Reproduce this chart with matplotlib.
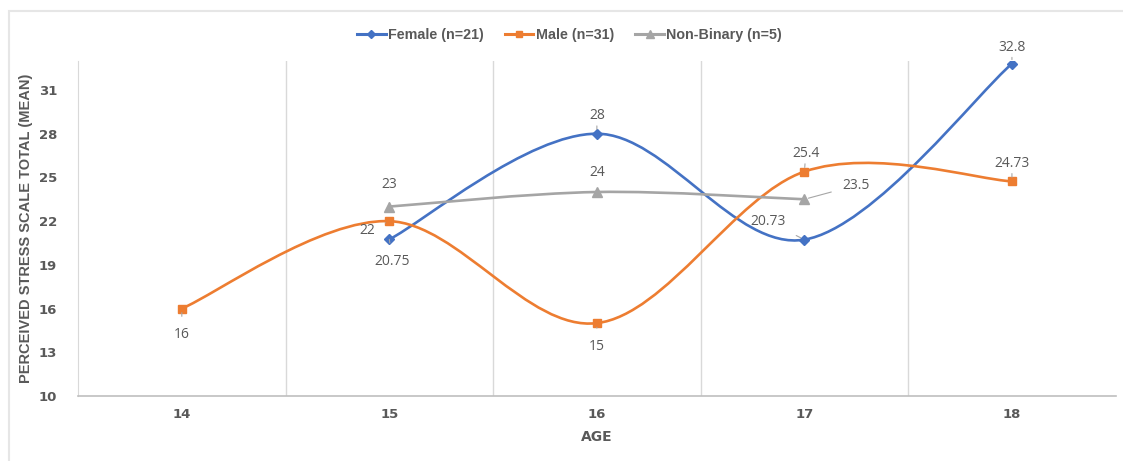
import numpy as np
import matplotlib
matplotlib.use("Agg")
import matplotlib.pyplot as plt
from matplotlib.path import Path
from matplotlib.patches import PathPatch, Rectangle
from matplotlib.lines import Line2D

plt.rcParams['font.family'] = ['Liberation Sans', 'DejaVu Sans']

ages = [14, 15, 16, 17, 18]
female_x = [15, 16, 17, 18]
female_y = [20.75, 28, 20.73, 32.8]
male_x = [14, 15, 16, 17, 18]
male_y = [16, 22, 15, 25.4, 24.73]
nb_x = [15, 16, 17]
nb_y = [23, 24, 23.5]

BLUE = '#4472C4'
ORANGE = '#ED7D31'
GRAY = '#A5A5A5'
TXT = '#595959'


def smooth_path(xs, ys):
    # Excel-style smoothing: cubic Bezier through the points
    pts = np.column_stack([np.asarray(xs, float) - ages[0], ys])
    n = len(pts)
    verts = [pts[0]]
    codes = [Path.MOVETO]
    for i in range(n - 1):
        p0 = pts[i - 1] if i > 0 else pts[i]
        p1, p2 = pts[i], pts[i + 1]
        p3 = pts[i + 2] if i + 2 < n else pts[i + 1]
        c1 = p1 + (p2 - p0) / 6.0
        c2 = p2 - (p3 - p1) / 6.0
        verts += [c1, c2, p2]
        codes += [Path.CURVE4] * 3
    return Path(verts, codes)


fig = plt.figure(figsize=(11.23, 4.61), dpi=100)
ax = fig.add_axes([0.0695, 0.141, 0.924, 0.727])

series = [
    (female_x, female_y, BLUE, 'D', 'Female (n=21)', 5),
    (male_x, male_y, ORANGE, 's', 'Male (n=31)', 5.5),
    (nb_x, nb_y, GRAY, '^', 'Non-Binary (n=5)', 6.5),
]
handles = []
for xs, ys, c, m, lab, ms in series:
    ax.add_patch(PathPatch(smooth_path(xs, ys), fill=False, edgecolor=c, lw=1.9, zorder=3))
    xi = [x - ages[0] for x in xs]
    ax.plot(xi, ys, linestyle='none', marker=m, color=c, markersize=ms, zorder=4)
    handles.append(Line2D([0], [0], color=c, lw=2.2, marker=m, markersize=ms - 1))

# data labels: (x, y, offset in points)
labels = [
    (15, 20.75, '20.75', (2, -16)),
    (16, 28, '28', (0, 13)),
    (17, 20.73, '20.73', (-26, 13)),
    (18, 32.8, '32.8', (0, 12)),
    (14, 16, '16', (0, -19)),
    (15, 22, '22', (-16, -7)),
    (16, 15, '15', (0, -17)),
    (17, 25.4, '25.4', (1, 13)),
    (18, 24.73, '24.73', (0, 13)),
    (15, 23, '23', (0, 16)),
    (16, 24, '24', (0, 14)),
    (17, 23.5, '23.5', (37, 10)),
]
for x, y, s, off in labels:
    ax.annotate(s, (x - ages[0], y), xytext=off, textcoords='offset points',
                ha='center', va='center', fontsize=10, color=TXT,
                family=['Open Sans', 'DejaVu Sans'],
                arrowprops=dict(arrowstyle='-', color='#A6A6A6', lw=0.8,
                                shrinkA=6, shrinkB=3), zorder=5)

ax.set_xlim(-0.5, 4.5)
ax.set_ylim(10, 33)
ax.set_xticks(range(len(ages)))
ax.set_xticklabels([str(a) for a in ages])
ax.set_yticks(np.arange(10, 32, 3))
for v in np.arange(0.5, 4, 1):
    ax.axvline(v, color='#D9D9D9', lw=1.0, zorder=1)

for sp in ['top', 'right']:
    ax.spines[sp].set_visible(False)
ax.spines['left'].set_color('#D9D9D9')
ax.spines['bottom'].set_color('#BFBFBF')
ax.spines['bottom'].set_linewidth(1.2)
ax.tick_params(length=0, labelsize=9.5, labelcolor=TXT)
for t in ax.get_xticklabels() + ax.get_yticklabels():
    t.set_fontweight('bold')
    t.set_family(['DejaVu Sans Condensed', 'DejaVu Sans'])
ax.tick_params(axis='y', pad=15)
ax.tick_params(axis='x', pad=9)

ax.set_xlabel('AGE', fontsize=10, fontweight='bold', color=TXT, labelpad=6,
              family=['DejaVu Sans Condensed', 'DejaVu Sans'])
ax.set_ylabel('PERCEIVED STRESS SCALE TOTAL (MEAN)', fontsize=10.5, fontweight='bold',
              color=TXT, labelpad=4)

leg = fig.legend(handles, [s[4] for s in series], loc='center', bbox_to_anchor=(0.507, 0.925),
                 ncol=3, frameon=False, handlelength=2.0, handletextpad=0.15,
                 columnspacing=1.5, prop={'weight': 'bold', 'size': 10.3})
for t in leg.get_texts():
    t.set_color(TXT)

fig.patches.append(Rectangle((9 / 1123, -0.1), 1.2, (461 - 11) / 461 + 0.1,
                             transform=fig.transFigure, fill=False,
                             edgecolor='#E6E6E6', lw=1.5))

fig.savefig('out.png', dpi=100)
